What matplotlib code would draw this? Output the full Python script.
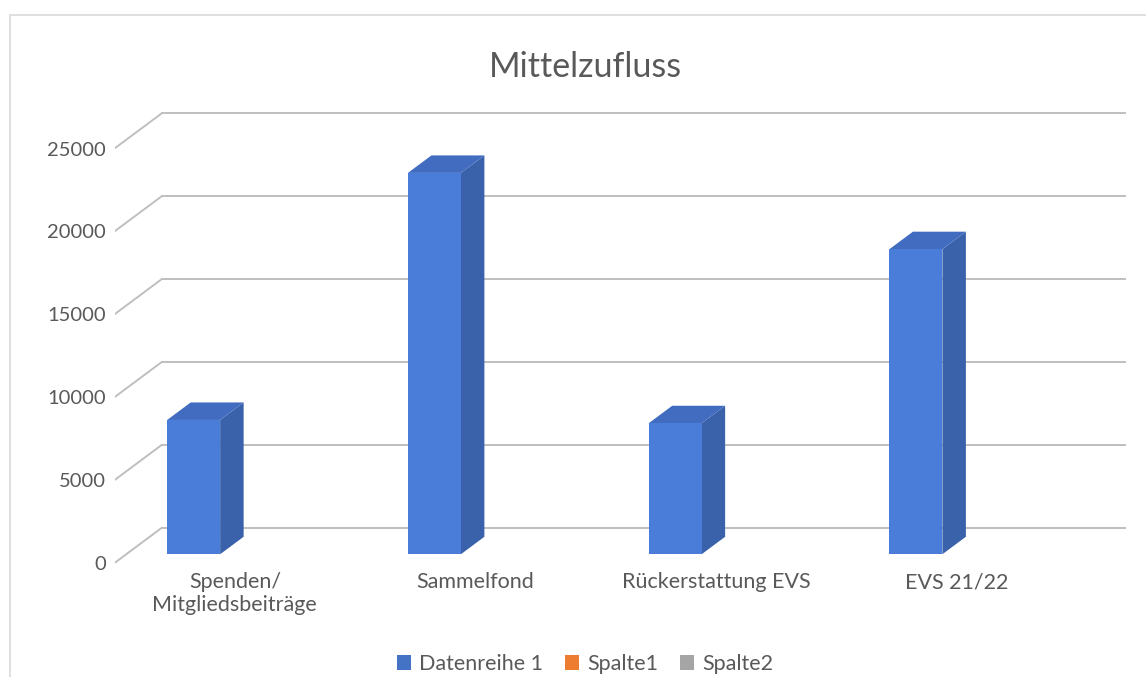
import matplotlib.pyplot as plt
from matplotlib.patches import Polygon, Rectangle, Patch
import numpy as np

plt.rcParams['font.family'] = ['Lato', 'DejaVu Sans']

# data
categories = ['Spenden/\nMitgliedsbeiträge', 'Sammelfond', 'Rückerstattung EVS', 'EVS 21/22']
values = [8100, 23000, 7900, 18400]
yticks = [0, 5000, 10000, 15000, 20000, 25000]
series = ['Datenreihe 1', 'Spalte1', 'Spalte2']
series_colors = ['#4472C4', '#ED7D31', '#A5A5A5']

W, H = 1146, 677
fig = plt.figure(figsize=(W / 100, H / 100), dpi=100)

# pixel layout of the front plane
px_left = 114.5      # front left edge of floor
px_cat = 240.75      # px per category
px_zero = 563        # y px of value 0 at front
px_per_val = 82.9 / 5000

x0 = -0.5
x1 = x0 + (W - px_left) / px_cat
v_bottom = -(H - px_zero) / px_per_val
v_top = px_zero / px_per_val

ax = fig.add_axes([px_left / W, 0, 1 - px_left / W, 1])
ax.set_xlim(x0, x1)
ax.set_ylim(v_bottom, v_top)
for s in ax.spines.values():
    s.set_visible(False)

# depth vector (oblique 3d)
dx = 47 / px_cat
dv = 35 / px_per_val
n = len(categories)
grid_c = '#BFBFBF'

# back wall gridlines + left wall diagonals
for t in yticks:
    ax.plot([-0.5 + dx, n - 0.5 + dx], [t + dv, t + dv], color=grid_c, lw=1.4, zorder=1)
    ax.plot([-0.5, -0.5 + dx], [t, t + dv], color=grid_c, lw=1.4, zorder=1)

# bars
bw = 0.22
off = -0.22
d0, d1 = 0.25, 0.75
front_c, top_c, side_c = '#4A7DD9', '#416CC0', '#3A62AA'
for i, v in enumerate(values):
    xl = i + off - bw / 2 + d0 * dx
    base = d0 * dv
    top = base + v
    hx, hv = (d1 - d0) * dx, (d1 - d0) * dv
    ax.add_patch(Polygon([(xl + bw, base), (xl + bw, top), (xl + bw + hx, top + hv),
                          (xl + bw + hx, base + hv)], closed=True, fc=side_c, ec='none', zorder=3))
    ax.add_patch(Polygon([(xl, top), (xl + bw, top), (xl + bw + hx, top + hv),
                          (xl + hx, top + hv)], closed=True, fc=top_c, ec='none', zorder=3))
    ax.add_patch(Rectangle((xl, base), bw, v, fc=front_c, ec='none', zorder=4))

# axis labels
ax.set_yticks(yticks)
ax.set_yticklabels([str(t) for t in yticks])
ax.tick_params(axis='y', length=0, pad=6, labelsize=14.5, labelcolor='#595959')
ax.set_xticks([])
for i, c in enumerate(categories):
    ax.text(i, -560, c, ha='center', va='top', fontsize=15.5, color='#595959', linespacing=1.2)

fig.text(585 / W, 1 - 67 / H, 'Mittelzufluss', ha='center', va='center', fontsize=24.5, color='#595959')

# chart border
fig.add_artist(Rectangle((10 / W, -0.1), 1.2, 1 - 15 / H + 0.1, transform=fig.transFigure,
                         fill=False, ec='#D9D9D9', lw=1.2))

handles = [Patch(fc=c, ec='none') for c in series_colors]
fig.legend(handles, series, loc='center', bbox_to_anchor=(585 / W, 1 - 664 / H), ncol=3,
           frameon=False, fontsize=15.5, labelcolor='#595959', handlelength=0.65, handleheight=0.65,
           handletextpad=0.4, columnspacing=1.0)

fig.savefig('out.png', dpi=100)
